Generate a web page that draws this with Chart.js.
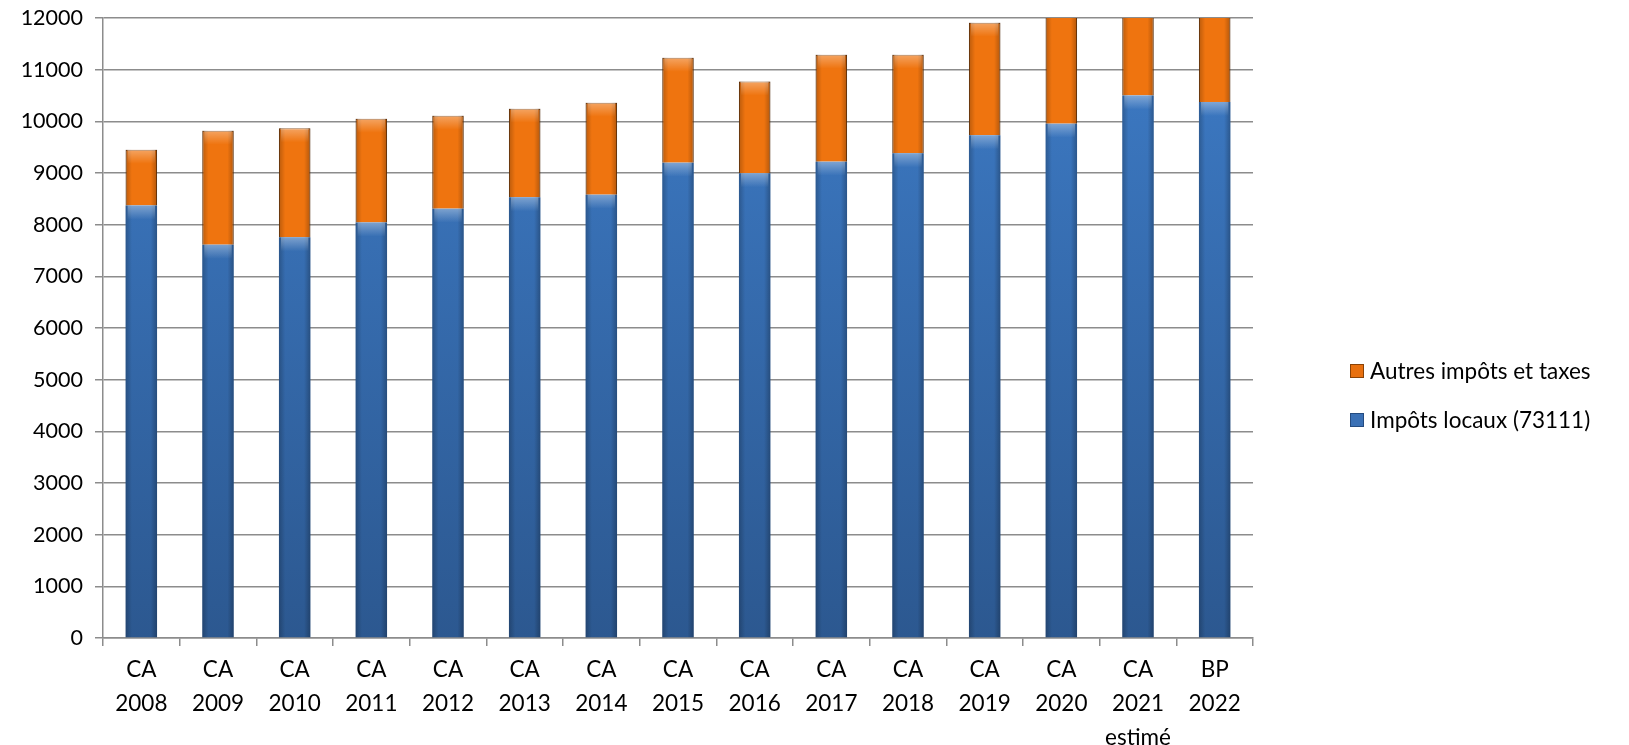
<!DOCTYPE html>
<html>
<head>
<meta charset="utf-8">
<script src="https://cdn.jsdelivr.net/npm/chart.js@4/dist/chart.umd.min.js"></script>
<style>
  html, body { margin: 0; padding: 0; background: #fff; }
  #wrap { width: 1629px; height: 745px; }
</style>
</head>
<body>
<div id="wrap"><canvas id="chart"></canvas></div>
<script>
// categories and values
var categories = [
  ['CA', '2008'], ['CA', '2009'], ['CA', '2010'], ['CA', '2011'], ['CA', '2012'],
  ['CA', '2013'], ['CA', '2014'], ['CA', '2015'], ['CA', '2016'], ['CA', '2017'],
  ['CA', '2018'], ['CA', '2019'], ['CA', '2020'], ['CA', '2021', 'estimé'], ['BP', '2022']
];
var impotsLocaux = [8370, 7610, 7755, 8040, 8310, 8530, 8580, 9200, 8995, 9220, 9380, 9730, 9955, 10500, 10375];
var autresImpots = [1080, 2210, 2110, 2010, 1800, 1715, 1780, 2030, 1775, 2070, 1910, 2180, 2350, 2050, 2100];
var yTicks = [0, 1000, 2000, 3000, 4000, 5000, 6000, 7000, 8000, 9000, 10000, 11000, 12000];

var FONT = 'Lato, "Open Sans", sans-serif';

// vertical gradient per dataset, lighter near the top
function barFill(top, bottom) {
  return function (ctx) {
    var area = ctx.chart.chartArea;
    if (!area) return top;
    var g = ctx.chart.ctx.createLinearGradient(0, area.top, 0, area.bottom);
    g.addColorStop(0, top);
    g.addColorStop(1, bottom);
    return g;
  };
}

// shading on the sides of each bar, to mimic the bevel look
var bevel = {
  id: 'bevel',
  afterDatasetsDraw: function (chart) {
    var c = chart.ctx, area = chart.chartArea;
    c.save();
    c.beginPath();
    c.rect(area.left, area.top, area.right - area.left, area.bottom - area.top);
    c.clip();
    chart.data.datasets.forEach(function (ds, i) {
      chart.getDatasetMeta(i).data.forEach(function (bar) {
        var p = bar.getProps(['x', 'y', 'base', 'width'], true);
        var l = p.x - p.width / 2, r = p.x + p.width / 2;
        var g = c.createLinearGradient(l, 0, r, 0);
        g.addColorStop(0, 'rgba(0,0,0,0.22)');
        g.addColorStop(0.2, 'rgba(0,0,0,0)');
        g.addColorStop(0.8, 'rgba(0,0,0,0)');
        g.addColorStop(1, 'rgba(0,0,0,0.25)');
        c.fillStyle = g;
        c.fillRect(l, p.y, p.width, p.base - p.y);
        // light band at the top of the segment
        var t = Math.min(14, (p.base - p.y) / 3);
        var g2 = c.createLinearGradient(0, p.y, 0, p.y + t);
        g2.addColorStop(0, 'rgba(255,255,255,0.35)');
        g2.addColorStop(1, 'rgba(255,255,255,0)');
        c.fillStyle = g2;
        c.fillRect(l + 2, p.y, p.width - 4, t);
      });
    });
    c.restore();
  }
};

// legend drawn at the right, orange first
var sideLegend = {
  id: 'sideLegend',
  afterDraw: function (chart) {
    var c = chart.ctx;
    var items = [
      { text: chart.data.datasets[1].label, fill: '#E8700F', edge: '#8A4206' },
      { text: chart.data.datasets[0].label, fill: '#3A70B5', edge: '#244B80' }
    ];
    c.save();
    c.font = '22.5px ' + FONT;
    c.textBaseline = 'middle';
    items.forEach(function (it, k) {
      var y = 371 + k * 49;
      c.fillStyle = it.fill;
      c.fillRect(1350, y - 7, 14, 14);
      c.strokeStyle = it.edge;
      c.lineWidth = 1;
      c.strokeRect(1350.5, y - 6.5, 13, 13);
      c.fillStyle = '#000';
      c.fillText(it.text, 1370, y + 1);
    });
    c.restore();
  }
};

new Chart(document.getElementById('chart'), {
  type: 'bar',
  data: {
    labels: categories,
    datasets: [
      {
        label: 'Impôts locaux (73111)',
        data: impotsLocaux,
        backgroundColor: barFill('#3D7BC6', '#2C5890'),
        borderWidth: 0,
        barPercentage: 0.41,
        categoryPercentage: 1,
        clip: 0
      },
      {
        label: 'Autres impôts et taxes',
        data: autresImpots,
        backgroundColor: '#EF740F',
        borderColor: '#7A3A05',
        borderWidth: 1,
        barPercentage: 0.41,
        categoryPercentage: 1,
        clip: 0
      }
    ]
  },
  options: {
    responsive: true,
    maintainAspectRatio: false,
    animation: false,
    layout: { padding: { top: 0, right: 376, bottom: 0, left: 10 } },
    plugins: {
      legend: { display: false },
      tooltip: { enabled: false }
    },
    scales: {
      x: {
        stacked: true,
        afterFit: function (scale) { scale.height = 107; },
        border: { color: '#8C8C8C', width: 1.5 },
        grid: { drawOnChartArea: false, drawTicks: true, tickLength: 8, color: '#8C8C8C', lineWidth: 1.5, offset: true },
        ticks: { color: '#000', font: { family: FONT, size: 22.5, lineHeight: 1.5 }, padding: 7, maxRotation: 0, autoSkip: false }
      },
      y: {
        stacked: true,
        min: 0,
        max: 12000,
        afterBuildTicks: function (axis) {
          axis.ticks = yTicks.map(function (v) { return { value: v }; });
        },
        afterFit: function (scale) {
          scale.width = 93;
          scale.paddingTop = 18;
          scale.paddingBottom = 0;
        },
        border: { color: '#8C8C8C', width: 1.5 },
        grid: { color: '#8C8C8C', lineWidth: 1.5, tickLength: 8 },
        ticks: {
          color: '#000',
          font: { family: FONT, size: 21.5 },
          padding: 12,
          callback: function (v) { return String(v); }
        }
      }
    }
  },
  plugins: [bevel, sideLegend]
});
</script>
</body>
</html>
